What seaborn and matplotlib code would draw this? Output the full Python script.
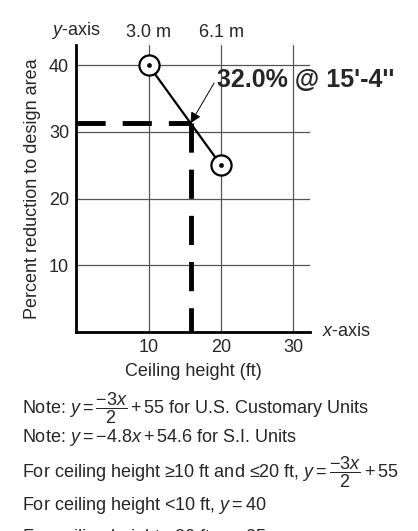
import pandas as pd
import seaborn as sns
import matplotlib.pyplot as plt

# data
heights_ft = [10, 20]
reduction_pct = [40, 25]
cross_x = 15.8
cross_y = 31.3
x_ticks = [10, 20, 30]
y_ticks = [10, 20, 30, 40]
top_ticks = [0, 10, 20]
top_labels = ['$y$-axis', '3.0 m', '6.1 m']
callout = "32.0% @ 15'-4''"
notes = [
    r'Note: $y = \dfrac{-3x}{2} + 55$ for U.S. Customary Units',
    r'Note: $y = -4.8x + 54.6$ for S.I. Units',
    r'For ceiling height ≥10 ft and ≤20 ft, $y = \dfrac{-3x}{2} + 55$',
    r'For ceiling height <10 ft, $y = 40$',
    r'For ceiling height >20 ft, $y = 25$',
]

sns.set_style('white')
plt.rcParams['font.family'] = ['Liberation Sans', 'DejaVu Sans']
plt.rcParams['mathtext.fontset'] = 'custom'
plt.rcParams['mathtext.rm'] = 'Liberation Sans'
plt.rcParams['mathtext.it'] = 'Liberation Sans:italic'
plt.rcParams['mathtext.bf'] = 'Liberation Sans:bold'

df = pd.DataFrame({'height': heights_ft, 'reduction': reduction_pct})

fig = plt.figure(figsize=(4.18, 5.31), dpi=100)
ax = fig.add_axes([0.182, 0.375, 0.742 - 0.182, 0.915 - 0.375])

ax.set_xlim(0, 32.3)
ax.set_ylim(0, 43)
ax.set_xticks(x_ticks)
ax.set_yticks(y_ticks)
ax.grid(True, color='#555555', lw=0.9)
ax.set_axisbelow(True)
for s in ['top', 'right']:
    ax.spines[s].set_visible(False)
for s in ['left', 'bottom']:
    ax.spines[s].set_color('black')
    ax.spines[s].set_linewidth(2)
ax.tick_params(length=0, labelsize=13, pad=5)

# dashed read-off lines
ax.plot([0, cross_x], [cross_y, cross_y], color='black', lw=3.5,
        dashes=(6, 3.5), solid_capstyle='butt', zorder=3)
ax.plot([cross_x, cross_x], [cross_y, 0], color='black', lw=3.5,
        dashes=(6, 3.5), solid_capstyle='butt', zorder=3)

sns.lineplot(data=df, x='height', y='reduction', color='black', lw=1.6, ax=ax, zorder=4)
sns.scatterplot(data=df, x='height', y='reduction', s=210, facecolor='white',
                edgecolor='black', linewidth=1.6, ax=ax, zorder=5)
sns.scatterplot(data=df, x='height', y='reduction', s=10, color='black',
                edgecolor='black', ax=ax, zorder=6)

ax.annotate(callout, xy=(cross_x, cross_y), xytext=(19.5, 37.8),
            fontsize=18, fontweight='bold', va='center', ha='left',
            arrowprops=dict(arrowstyle='-|>', color='black', lw=0.7,
                            mutation_scale=16, shrinkA=0, shrinkB=0,
                            relpos=(0, 0.6)),
            zorder=7)

ax.set_xlabel('Ceiling height (ft)', fontsize=13, labelpad=5)
ax.set_ylabel('Percent reduction to design area', fontsize=13, labelpad=6)
ax.text(34.0, 0, '$x$-axis', fontsize=13, va='center', ha='left', clip_on=False)

top = ax.secondary_xaxis('top')
top.set_xticks(top_ticks, top_labels)
top.tick_params(length=0, labelsize=13, pad=3)
top.spines['top'].set_visible(False)

note_y = [408, 438, 472, 505, 537]
for txt, y in zip(notes, note_y):
    fig.text(22 / 418, 1 - y / 531, txt, fontsize=13, va='center', ha='left')

fig.savefig('out.png', dpi=100)
